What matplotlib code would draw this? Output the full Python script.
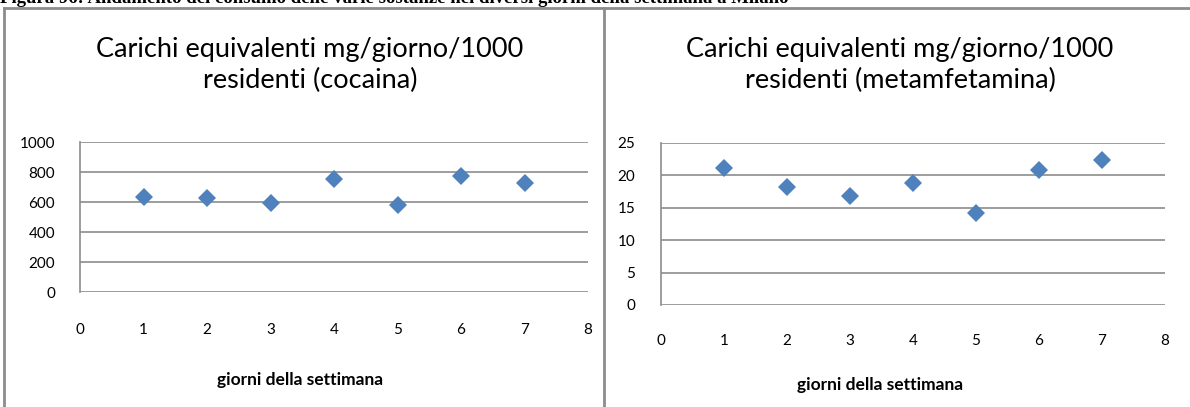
import matplotlib.pyplot as plt
from matplotlib.lines import Line2D

# dati
giorni = [1, 2, 3, 4, 5, 6, 7]
cocaina = [631, 630, 595, 753, 582, 771, 724]
metamfetamina = [21.2, 18.2, 16.8, 18.8, 14.25, 20.8, 22.3]

titoli = ["Carichi equivalenti mg/giorno/1000\nresidenti (cocaina)",
          "Carichi equivalenti mg/giorno/1000\nresidenti (metamfetamina)"]
xlabel = "giorni della settimana"
didascalia = ("Figura 96: Andamento del consumo delle varie sostanze "
              "nei diversi giorni della settimana a Milano")

W, H = 1190, 407
BLU = "#4F81BD"
GRIGIO = "#8C8C8C"
plt.rcParams["font.family"] = ["Lato", "DejaVu Sans"]


def px(x0, y_top, x1, y_bot):
    # rettangolo in pixel (origine in alto) -> coordinate figura
    return [x0 / W, 1 - y_bot / H, (x1 - x0) / W, (y_bot - y_top) / H]


def pannello(ax, valori, ymax, ystep, xpad, ypad):
    ax.plot(giorni, valori, linestyle="none", marker="D",
            markersize=9, color=BLU, markeredgewidth=0)
    ax.set_xlim(0, 8)
    ax.set_ylim(0, ymax)
    ax.set_xticks(range(0, 9))
    ax.set_yticks(range(0, ymax + 1, ystep))
    ax.grid(axis="y", color=GRIGIO, linewidth=1.2)
    ax.set_axisbelow(True)
    for s in ["top", "right", "bottom"]:
        ax.spines[s].set_visible(False)
    ax.spines["left"].set_color(GRIGIO)
    ax.spines["left"].set_linewidth(1.2)
    ax.tick_params(length=0, labelsize=11, colors="black")
    ax.tick_params(axis="x", pad=xpad)
    ax.tick_params(axis="y", pad=ypad)


fig = plt.figure(figsize=(W / 100, H / 100), dpi=100)

ax1 = fig.add_axes(px(80, 142, 588, 292))
pannello(ax1, cocaina, 1000, 200, 22, 18)

ax2 = fig.add_axes(px(661, 143, 1165, 305))
pannello(ax2, metamfetamina, 25, 5, 21, 18.5)

# titoli e etichette asse x
fig.text(310 / W, 1 - 65 / H, titoli[0], ha="center", va="center",
         fontsize=19.5, linespacing=1.25)
fig.text(900 / W, 1 - 65 / H, titoli[1], ha="center", va="center",
         fontsize=19.5, linespacing=1.25)
fig.text(300 / W, 1 - 380 / H, xlabel, ha="center", va="center",
         fontsize=12.5, fontweight="bold")
fig.text(880 / W, 1 - 385 / H, xlabel, ha="center", va="center",
         fontsize=12.5, fontweight="bold")

# didascalia tagliata in alto (come nell'originale)
fig.text(0, 1 - 3 / H, didascalia, ha="left", va="baseline",
         fontsize=13.5, fontweight="bold", family="Liberation Serif")

# bordi dei riquadri
bordi = [((4, 1190), (8, 8)), ((4, 4), (8, 407)), ((604, 604), (8, 407))]
for xs, ys in bordi:
    fig.add_artist(Line2D([x / W for x in xs], [1 - y / H for y in ys],
                          color=GRIGIO, linewidth=2))

fig.savefig("out.png", dpi=100)
